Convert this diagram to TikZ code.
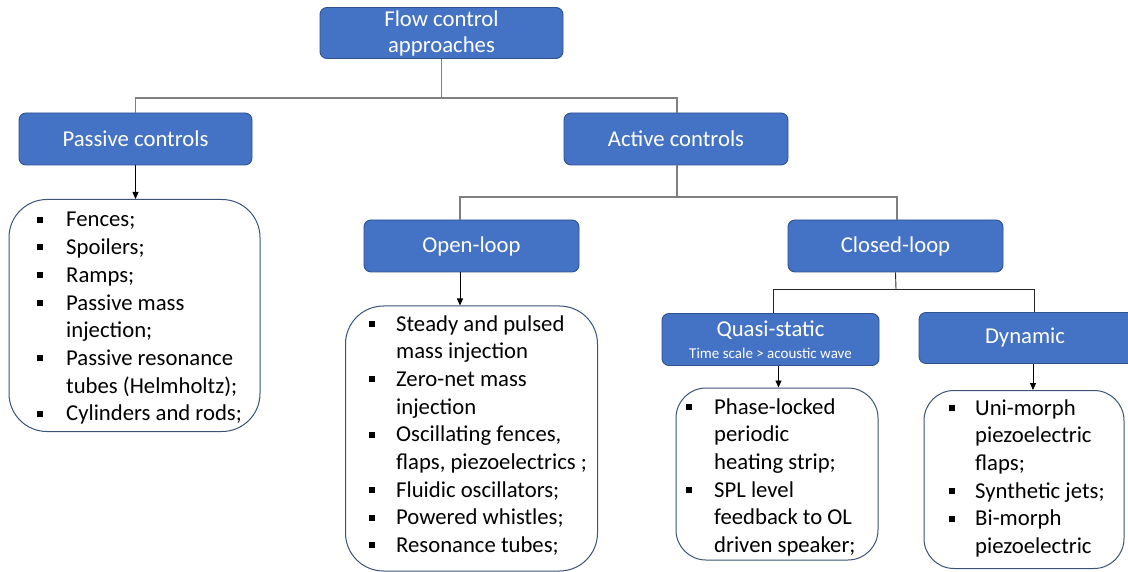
\documentclass[tikz,border=0pt]{standalone}
\usepackage{fontspec}
\setmainfont{Carlito}
\usetikzlibrary{arrows.meta}
\definecolor{boxblue}{HTML}{4472C4}
\definecolor{boxedge}{HTML}{2F528F}
\definecolor{listedge}{HTML}{3B5378}
\definecolor{connGray}{HTML}{7F7F7F}
\newcommand{\blt}{\rule[4.2pt]{6pt}{6pt}}
\newcommand{\listfont}{\fontsize{22.7}{27.7}\selectfont}
\tikzset{
  titlebox/.style={draw=boxedge, fill=boxblue, rounded corners=7pt, text=white,
    font=\fontsize{22.7}{27}\selectfont, inner sep=0pt, align=center, line width=0.9pt},
  listbox/.style={draw=listedge, fill=white, line width=1pt, inner sep=0pt},
  listtext/.style={anchor=base west, inner sep=0pt, font=\listfont},
  conn/.style={draw=connGray, line width=1.3pt},
  connk/.style={draw=black!85, line width=0.9pt},
  arr/.style={draw=black, line width=0.9pt, -{Triangle[length=7pt,width=6pt]}},
}
\begin{document}
\begin{tikzpicture}[x=1pt,y=-1pt]
\clip (0,0) rectangle (1128,572);
\fill[white] (0,0) rectangle (1128,572);

% title boxes
\node[titlebox, minimum width=243pt, minimum height=51pt] (top) at (441.5,33) {\raisebox{-1pt}{Flow control}\\approaches};
\node[titlebox, minimum width=233pt, minimum height=52pt] (passive) at (135.5,139) {\raisebox{-1pt}{Passive controls}};
\node[titlebox, minimum width=224pt, minimum height=52pt] (active) at (676,139) {\raisebox{-1pt}{Active controls}};
\node[titlebox, minimum width=215pt, minimum height=52pt] (open) at (471.5,246) {\raisebox{-1pt}{Open-loop}};
\node[titlebox, minimum width=215pt, minimum height=52pt] (closed) at (895.5,246) {\raisebox{-1pt}{Closed-loop}};
\node[titlebox, minimum width=217pt, minimum height=52pt] (quasi) at (770.5,339.5)
  {Quasi-static\\[-5pt]{\fontsize{15}{17}\selectfont Time scale > acoustic wave}};
\node[titlebox, minimum width=220pt, minimum height=51pt] (dynamic) at (1029,338) {\hspace*{-8pt}\raisebox{-1.5pt}{Dynamic}};

% list boxes
\node[listbox, rounded corners=38pt, minimum width=251pt, minimum height=232pt] (plist) at (134.5,315.5) {};
\node[listbox, rounded corners=38pt, minimum width=252pt, minimum height=265pt] (olist) at (471.5,438.5) {};
\node[listbox, rounded corners=30pt, minimum width=202pt, minimum height=172pt] (qlist) at (777,474) {};
\node[listbox, rounded corners=30pt, minimum width=200pt, minimum height=178pt] (dlist) at (1024,479.5) {};

% list texts
\node[listtext] (ptext) at (37,227) {\begin{tabular}[t]{@{}p{29pt}@{}l@{}}
\blt & Fences;\\
\blt & Spoilers;\\
\blt & Ramps;\\
\blt & Passive mass\\
 & injection;\\
\blt & Passive resonance\\
 & tubes (Helmholtz);\\
\blt & Cylinders and rods;
\end{tabular}};
\node[listtext] (otext) at (369,331) {\begin{tabular}[t]{@{}p{27pt}@{}l@{}}
\blt & Steady and pulsed\\
 & mass injection\\
\blt & Zero-net mass\\
 & injection\\
\blt & Oscillating fences,\\
 & flaps, piezoelectrics ;\\
\blt & Fluidic oscillators;\\
\blt & Powered whistles;\\
\blt & Resonance tubes;
\end{tabular}};
\node[listtext] (qtext) at (686,414) {\begin{tabular}[t]{@{}p{28pt}@{}l@{}}
\blt & Phase-locked\\
 & periodic\\
 & heating strip;\\
\blt & SPL level\\
 & feedback to OL\\
 & driven speaker;
\end{tabular}};
\node[listtext] (dtext) at (949,415) {\begin{tabular}[t]{@{}p{26pt}@{}l@{}}
\blt & Uni-morph\\
 & piezoelectric\\
 & flaps;\\
\blt & Synthetic jets;\\
\blt & Bi-morph\\
 & piezoelectric
\end{tabular}};

% connectors
\coordinate (j1) at (441.5,98);
\draw[conn] (top.south) -- (j1);
\draw[conn] (j1) -| (passive.north);
\draw[conn] (j1) -| ([xshift=1pt]active.north);
\coordinate (j2) at (677,197);
\draw[conn] ([xshift=1pt]active.south) -- (j2);
\draw[conn] (j2) -| ([xshift=-11.5pt]open.north);
\draw[conn] (j2) -| ([xshift=1.5pt]closed.north);
\coordinate (j3) at (896,289);
\draw[connk] (closed.south) -- (j3);
\draw[connk] (j3) -| ([xshift=2.5pt]quasi.north);
\draw[connk] (j3) -| ([xshift=5pt]dynamic.north);

% arrows
\draw[arr] (passive.south) -- (passive.south |- plist.north);
\draw[arr] ([xshift=-11.5pt]open.south) -- ([xshift=-11.5pt]open.south |- olist.north);
\draw[arr] ([xshift=8pt]quasi.south) -- ([xshift=8pt]quasi.south |- qlist.north);
\draw[arr] ([xshift=4pt]dynamic.south) -- ([xshift=4pt]dynamic.south |- dlist.north);
\end{tikzpicture}
\end{document}
